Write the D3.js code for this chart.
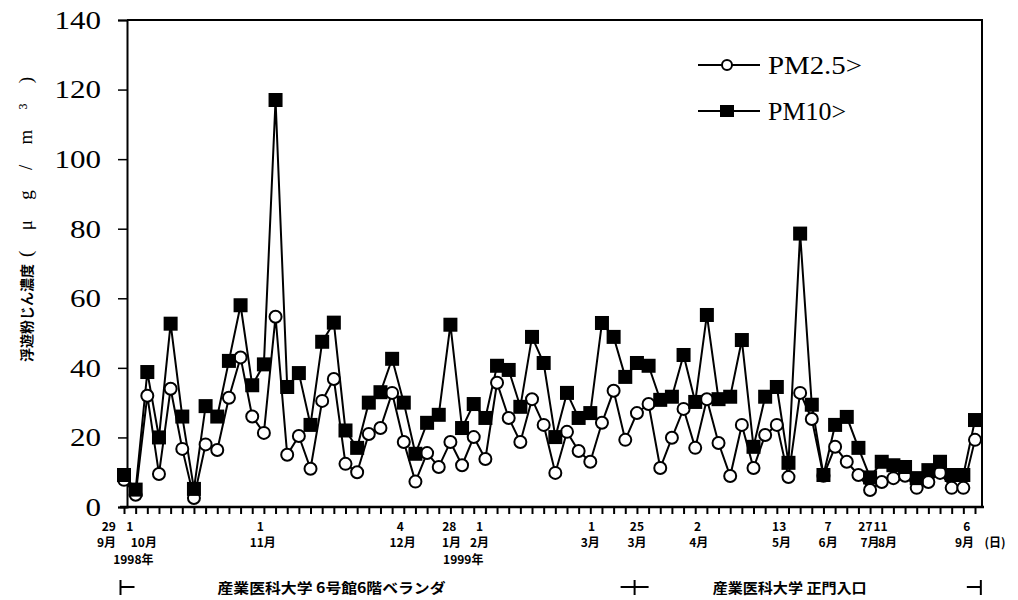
<!DOCTYPE html>
<html>
<head>
<meta charset="utf-8">
<script src="https://cdn.jsdelivr.net/npm/d3@7"></script>
<style>
  body { margin: 0; background: #fff; }
  svg { display: block; }
</style>
</head>
<body>
<svg id="chart" width="1018" height="600"></svg>
<script>
// PM2.5 and PM10 values, one per sampling day (evenly spaced on the axis)
const pm25 = [7.8, 3.5, 32, 9.5, 34, 16.7, 2.6, 18, 16.4, 31.4, 43, 26, 21.3, 54.7, 15, 20.4, 11, 30.5, 36.8, 12.4,
  10, 21, 22.7, 32.8, 18.7, 7.3, 15.5, 11.5, 18.7, 12, 20.1, 13.8, 35.7, 25.6, 18.7, 31, 23.6, 9.8, 21.6, 16.1,
  13, 24.2, 33.4, 19.3, 27, 29.6, 11.2, 19.9, 28.2, 17, 31, 18.4, 8.9, 23.6, 11.2, 20.7, 23.6, 8.6, 32.8, 25.3,
  9, 17.3, 13, 9.2, 4.9, 7.2, 8.3, 9, 5.5, 7.2, 9.8, 5.5, 5.5, 19.3];

const pm10 = [9.2, 5, 38.8, 20, 52.7, 26, 5.2, 29, 26, 42, 58, 35, 41, 117, 34.5, 38.5, 23.6, 47.5, 53, 22,
  17, 30, 33, 42.6, 30, 15.3, 24.2, 26.5, 52.4, 22.7, 29.6, 25.6, 40.6, 39.4, 28.8, 48.9, 41.4, 20.1, 32.8, 25.6,
  27, 52.9, 48.9, 37.4, 41.4, 40.6, 30.8, 31.7, 43.7, 30.2, 55.2, 31, 31.7, 48, 17.3, 31.7, 34.5, 12.7, 78.6, 29.4,
  9.2, 23.6, 25.9, 17, 8.5, 13, 12, 11.5, 8.3, 10.6, 13, 9.2, 9.2, 25];

const yTicks = [0, 20, 40, 60, 80, 100, 120, 140];

// date labels: sample index where the day number / month sit
const dayLabels = ["29", "1", "1", "4", "28", "1", "1", "25", "2", "13", "7", "27", "11", "6"];
const dayAt = [-1.3, 0.5, 11.7, 23.7, 27.9, 30.5, 40.1, 44.0, 49.2, 56.2, 60.4, 63.6, 64.9, 72.3];
const monthLabels = ["9月", "10月", "11月", "12月", "1月", "2月", "3月", "3月", "4月", "5月", "6月", "7月", "8月", "9月"];
const monthAt = [-1.5, 1.7, 11.9, 23.9, 28.1, 30.5, 40.0, 44.0, 49.3, 56.4, 60.4, 64.0, 65.5, 72.1];
const yearLabels = ["1998年", "1999年"];
const yearAt = [0.8, 29.1];

// sampling sites along the bottom
const siteNames = ["産業医科大学 6号館6階ベランダ", "産業医科大学 正門入口"];
const siteCenter = [17.8, 57.1];
const siteBounds = [-0.3, 43.8, 73.5];

const svg = d3.select("#chart");
const mLeft = 127, mRight = 982, mTop = 20, mBottom = 507;

const x = d3.scaleLinear().domain([0, pm25.length - 1]).range([124, 975]);
const y = d3.scaleLinear().domain([0, 140]).range([mBottom, mTop]);

const serif = "'Liberation Serif', 'DejaVu Serif', serif";
const jp = "'Noto Sans CJK JP', sans-serif";

// frame
svg.append("path")
  .attr("d", `M${mLeft},${mTop}H${mRight}V${mBottom}`)
  .attr("fill", "none").attr("stroke", "#000").attr("stroke-width", 2);

// y axis
const yAxis = svg.append("g")
  .attr("transform", `translate(${mLeft},0)`)
  .call(d3.axisLeft(y).tickValues(yTicks).tickSize(9).tickPadding(17).tickFormat(d3.format("d")));
yAxis.select(".domain").attr("stroke-width", 2);
yAxis.selectAll(".tick line").attr("stroke-width", 1.5);
yAxis.selectAll(".tick text")
  .attr("font-family", serif).attr("font-size", 26)
  .attr("textLength", d => String(d).length * 15.5)
  .attr("lengthAdjust", "spacingAndGlyphs");

// x axis: one tick per sample
const xAxis = svg.append("g")
  .attr("transform", `translate(0,${mBottom})`)
  .call(d3.axisBottom(x).tickValues(d3.range(pm25.length)).tickSize(7).tickFormat(""));
xAxis.select(".domain").remove();
xAxis.selectAll(".tick line").attr("stroke-width", 2);
svg.append("line")
  .attr("x1", 120).attr("x2", mRight + 2).attr("y1", mBottom).attr("y2", mBottom)
  .attr("stroke", "#000").attr("stroke-width", 2.5);

// date labels
const lab = svg.append("g").attr("font-family", jp).attr("font-weight", "bold")
  .attr("font-size", 12).attr("text-anchor", "middle");
lab.selectAll(".day").data(dayLabels).join("text")
  .attr("x", (d, i) => x(dayAt[i])).attr("y", 531).text(d => d);
lab.selectAll(".mon").data(monthLabels).join("text")
  .attr("x", (d, i) => x(monthAt[i])).attr("y", 547).text(d => d);
lab.selectAll(".yr").data(yearLabels).join("text")
  .attr("x", (d, i) => x(yearAt[i])).attr("y", 564).text(d => d);
lab.append("text").attr("x", 995).attr("y", 547).text("(日)");

// sites
const site = svg.append("g").attr("stroke", "#000").attr("stroke-width", 2);
siteBounds.forEach((b, i) => {
  const cx = x(b);
  site.append("line").attr("x1", cx).attr("x2", cx).attr("y1", 580).attr("y2", 595);
  const x1 = i === 0 ? cx : cx - 14;
  const x2 = i === 2 ? cx : cx + 14;
  site.append("line").attr("x1", x1).attr("x2", x2).attr("y1", 587).attr("y2", 587);
});
svg.append("g").attr("font-family", jp).attr("font-weight", "bold").attr("font-size", 14)
  .attr("text-anchor", "middle")
  .selectAll("text").data(siteNames).join("text")
  .attr("x", (d, i) => x(siteCenter[i])).attr("y", 593)
  .attr("textLength", (d, i) => i === 0 ? 228 : 154)
  .attr("lengthAdjust", "spacingAndGlyphs")
  .text(d => d);

// y axis title
const yt = svg.append("g");
yt.append("text").attr("font-family", jp).attr("font-size", 14)
  .attr("font-weight", "bold").attr("text-anchor", "middle")
  .attr("transform", "translate(32,313) rotate(-90)").text("浮遊粉じん濃度");
yt.append("text").attr("font-family", serif).attr("font-size", 19).attr("text-anchor", "start")
  .attr("transform", "translate(32,257) rotate(-90)")
  .attr("textLength", 180).attr("lengthAdjust", "spacing")
  .text("(μg/m³)");

// series
const line = d3.line().x((d, i) => x(i)).y(d => y(d));
svg.append("path").datum(pm25).attr("d", line)
  .attr("fill", "none").attr("stroke", "#000").attr("stroke-width", 2);
svg.append("path").datum(pm10).attr("d", line)
  .attr("fill", "none").attr("stroke", "#000").attr("stroke-width", 2);

svg.append("g").selectAll("circle").data(pm25).join("circle")
  .attr("cx", (d, i) => x(i)).attr("cy", d => y(d)).attr("r", 6)
  .attr("fill", "#fff").attr("stroke", "#000").attr("stroke-width", 2);

svg.append("g").selectAll("rect").data(pm10).join("rect")
  .attr("x", (d, i) => x(i) - 7).attr("y", d => y(d) - 7)
  .attr("width", 14).attr("height", 14).attr("fill", "#000");

// legend
const legend = svg.append("g");
const legendItems = ["PM2.5>", "PM10>"];
legendItems.forEach((name, i) => {
  const ly = 65 + i * 46;
  legend.append("line").attr("x1", 698).attr("x2", 760).attr("y1", ly).attr("y2", ly)
    .attr("stroke", "#000").attr("stroke-width", 2);
  if (i === 0) {
    legend.append("circle").attr("cx", 727).attr("cy", ly).attr("r", 5)
      .attr("fill", "#fff").attr("stroke", "#000").attr("stroke-width", 2);
  } else {
    legend.append("rect").attr("x", 720).attr("y", ly - 6).attr("width", 14).attr("height", 12)
      .attr("fill", "#000");
  }
  legend.append("text").attr("x", 768).attr("y", ly + 9)
    .attr("font-family", serif).attr("font-size", 26)
    .attr("textLength", i === 0 ? 94 : 78).attr("lengthAdjust", "spacingAndGlyphs")
    .text(name);
});
</script>
</body>
</html>
